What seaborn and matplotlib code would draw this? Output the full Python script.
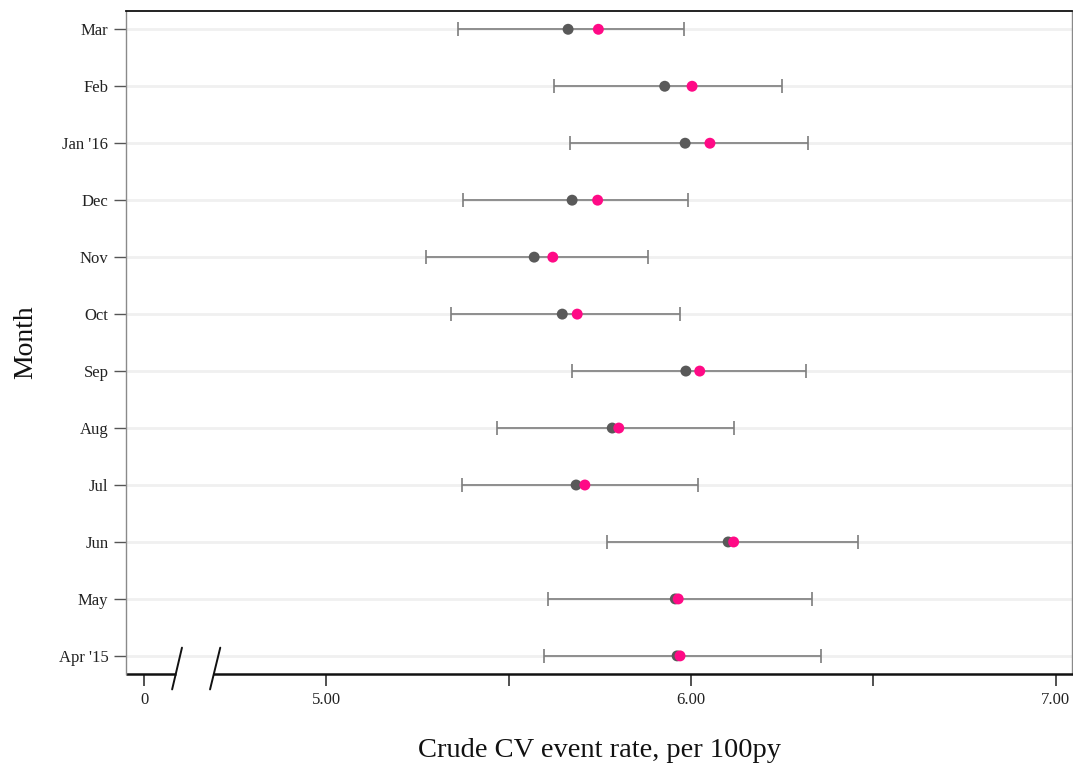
import numpy as np
import pandas as pd
import matplotlib
matplotlib.use("Agg")
import matplotlib.pyplot as plt
import matplotlib.transforms as mtransforms
from matplotlib.lines import Line2D
import seaborn as sns

# ---------------- data ----------------
months = ["Apr '15", "May", "Jun", "Jul", "Aug", "Sep",
          "Oct", "Nov", "Dec", "Jan '16", "Feb", "Mar"]
rate_gray = [5.962, 5.957, 6.102, 5.685, 5.784, 5.986,
             5.647, 5.570, 5.674, 5.984, 5.928, 5.663]
ci_low = [5.597, 5.609, 5.770, 5.372, 5.468, 5.674,
          5.342, 5.274, 5.376, 5.668, 5.623, 5.360]
ci_high = [6.356, 6.331, 6.457, 6.018, 6.119, 6.315,
           5.970, 5.883, 5.992, 6.320, 6.251, 5.982]
rate_pink = [5.970, 5.965, 6.117, 5.709, 5.802, 6.024,
             5.688, 5.621, 5.744, 6.052, 6.003, 5.746]

x_tick_pos = [4.5, 5.0, 6.0, 7.0]
x_tick_labels = ["0", "5.00", "6.00", "7.00"]
x_minor_pos = [5.5, 6.5]

# ---------------- style ----------------
sns.set_theme(style="white")
plt.rcParams["font.family"] = ["Liberation Serif", "DejaVu Serif"]

fig = plt.figure(figsize=(10.73, 7.65), dpi=100)
ax = fig.add_axes([126 / 1073, (765 - 673.5) / 765, 946 / 1073, 662.5 / 765])

df = pd.DataFrame({
    "month": months * 2,
    "value": rate_gray + rate_pink,
    "series": ["gray"] * len(months) + ["pink"] * len(months),
})

# points (seaborn)
sns.scatterplot(data=df, x="value", y="month", hue="series",
                palette={"gray": "#595959", "pink": "#FF0A86"},
                s=62, linewidth=0, legend=False, zorder=4, ax=ax)

# error bars
g = np.array(rate_gray)
ax.errorbar(x=rate_gray, y=months,
            xerr=[g - np.array(ci_low), np.array(ci_high) - g],
            fmt="none", ecolor="#7d7d7d", elinewidth=1.2,
            capsize=4.8, capthick=1.2, zorder=2)

# axes limits
ax.set_xlim(4.4505, 7.045)
ax.set_ylim(-0.309, len(months) - 1 + 0.321)

# grid
ax.set_axisbelow(True)
ax.grid(axis="y", color="#f0f0f0", linewidth=2.0)
ax.grid(axis="x", visible=False)

# ticks
ax.set_xticks(x_tick_pos)
ax.set_xticklabels(x_tick_labels)
ax.set_xticks(x_minor_pos, minor=True)
ax.tick_params(axis="x", which="both", bottom=True, direction="out",
               length=8.6, width=1.2, color="#333333", pad=5,
               labelsize=12, labelcolor="#222222")
ax.tick_params(axis="y", left=True, direction="out", length=8.6,
               width=1.0, color="#555555", pad=4,
               labelsize=12, labelcolor="#222222")

# spines
for side in ("left", "right"):
    ax.spines[side].set_color("#8a8a8a")
    ax.spines[side].set_linewidth(1.0)
ax.spines["top"].set_color("#111111")
ax.spines["top"].set_linewidth(1.3)
ax.spines["bottom"].set_color("#111111")
ax.spines["bottom"].set_linewidth(1.8)
ax.spines["bottom"].set_bounds(4.692, 7.045)

blend = mtransforms.blended_transform_factory(ax.transData, ax.transAxes)
ax.add_line(Line2D([4.4505, 4.588], [0, 0], transform=blend, color="#111111",
                   linewidth=1.8, clip_on=False, solid_capstyle="butt"))
for x0, x1 in [(4.577, 4.604), (4.681, 4.709)]:
    ax.add_line(Line2D([x0, x1], [-0.024, 0.039], transform=blend,
                       color="#111111", linewidth=1.4, clip_on=False))

# labels
ax.set_xlabel("Crude CV event rate, per 100py", fontsize=20.5,
              labelpad=21.5, color="#111111")
ax.set_ylabel("Month", fontsize=20, labelpad=15, color="#111111")

fig.savefig("out.png", dpi=100)
